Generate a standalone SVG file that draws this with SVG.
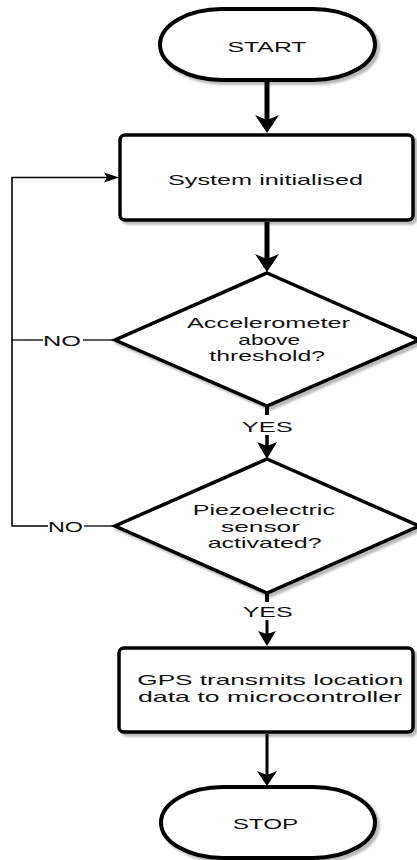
<svg xmlns="http://www.w3.org/2000/svg" width="417" height="860" viewBox="0 0 417 860">
<style>
.sh{fill:#fff;stroke:#000;}
.thick{stroke-width:4;}
.mid{stroke-width:3.5;}
.t{font-family:"Liberation Sans",Arial,sans-serif;font-size:15px;fill:#111;}
.c{fill:none;stroke:#000;}
.ah{fill:#000;stroke:none;}
</style>
<defs>
<filter id="shadow" x="-10%" y="-10%" width="130%" height="130%">
<feDropShadow dx="3" dy="3" stdDeviation="1.2" flood-color="#000" flood-opacity="0.28"/>
</filter>
</defs>
<rect width="417" height="860" fill="#fff"/>
<g id="connectors">
<line class="c" x1="267" y1="82" x2="267" y2="120" stroke-width="5"/>
<polygon class="ah" points="255,115 267,133 279,115 267,120"/>
<line class="c" x1="267" y1="222" x2="267" y2="259" stroke-width="5"/>
<polygon class="ah" points="255,254 267,272 279,254 267,259"/>
<line class="c" x1="267" y1="405" x2="267" y2="415" stroke-width="4"/>
<line class="c" x1="267" y1="435" x2="267" y2="446" stroke-width="3.5"/>
<polygon class="ah" points="257,442 267,459 277,442 267,446"/>
<line class="c" x1="267" y1="593" x2="267" y2="602" stroke-width="4"/>
<line class="c" x1="267" y1="620" x2="267" y2="634" stroke-width="3"/>
<polygon class="ah" points="258,631 267,646 276,631 267,634"/>
<line class="c" x1="267" y1="734" x2="267" y2="775" stroke-width="3"/>
<polygon class="ah" points="257,771 267,786 277,771 267,775"/>
<polyline class="c" points="115,340 83,340" stroke-width="1.3"/>
<polyline class="c" points="43,340 12,340" stroke-width="1.3"/>
<polyline class="c" points="115,526 84,526" stroke-width="1.3"/>
<polyline class="c" points="48,526 12,526 12,177.5 108,177.5" stroke-width="1.6"/>
<polygon class="ah" points="104,172.5 119,177.5 104,182.5 107,177.5"/>
<text class="t" x="43" y="346" textLength="38" lengthAdjust="spacingAndGlyphs">NO</text>
<text class="t" x="48" y="531.5" textLength="35" lengthAdjust="spacingAndGlyphs">NO</text>
<text class="t" x="241.7" y="431.7" textLength="51" lengthAdjust="spacingAndGlyphs">YES</text>
<text class="t" x="242.7" y="616.7" textLength="50" lengthAdjust="spacingAndGlyphs">YES</text>
</g>
<g id="start">
<rect class="sh thick" x="160" y="9" width="215" height="71" rx="62" ry="35.5" filter="url(#shadow)"/>
<text class="t" x="227.5" y="51.5" textLength="79" lengthAdjust="spacingAndGlyphs">START</text>
</g>
<g id="system">
<rect class="sh mid" x="120" y="135" width="293" height="85" rx="5" filter="url(#shadow)"/>
<text class="t" x="168" y="185" textLength="195" lengthAdjust="spacingAndGlyphs">System initialised</text>
</g>
<g id="accel">
<polygon class="sh mid" points="267,273 419,340 267,406 115,340" filter="url(#shadow)"/>
<text class="t" x="187" y="328.3" textLength="163" lengthAdjust="spacingAndGlyphs">Accelerometer</text>
<text class="t" x="238.3" y="344.5" textLength="61.7" lengthAdjust="spacingAndGlyphs">above</text>
<text class="t" x="209.3" y="360.7" textLength="115.7" lengthAdjust="spacingAndGlyphs">threshold?</text>
</g>
<g id="piezo">
<polygon class="sh mid" points="267,459 419,526 267,593 115,526" filter="url(#shadow)"/>
<text class="t" x="192.7" y="515.3" textLength="142.3" lengthAdjust="spacingAndGlyphs">Piezoelectric</text>
<text class="t" x="221" y="531.5" textLength="79" lengthAdjust="spacingAndGlyphs">sensor</text>
<text class="t" x="207.7" y="547.7" textLength="114" lengthAdjust="spacingAndGlyphs">activated?</text>
</g>
<g id="gps">
<rect class="sh mid" x="119" y="648" width="294" height="84" rx="5" filter="url(#shadow)"/>
<text class="t" x="137.3" y="685" textLength="266" lengthAdjust="spacingAndGlyphs">GPS transmits location</text>
<text class="t" x="138" y="701.5" textLength="264" lengthAdjust="spacingAndGlyphs">data to microcontroller</text>
</g>
<g id="stop">
<rect class="sh thick" x="161" y="787" width="214" height="71" rx="62" ry="35.5" filter="url(#shadow)"/>
<text class="t" x="232.7" y="829.3" textLength="65.6" lengthAdjust="spacingAndGlyphs">STOP</text>
</g>
</svg>
